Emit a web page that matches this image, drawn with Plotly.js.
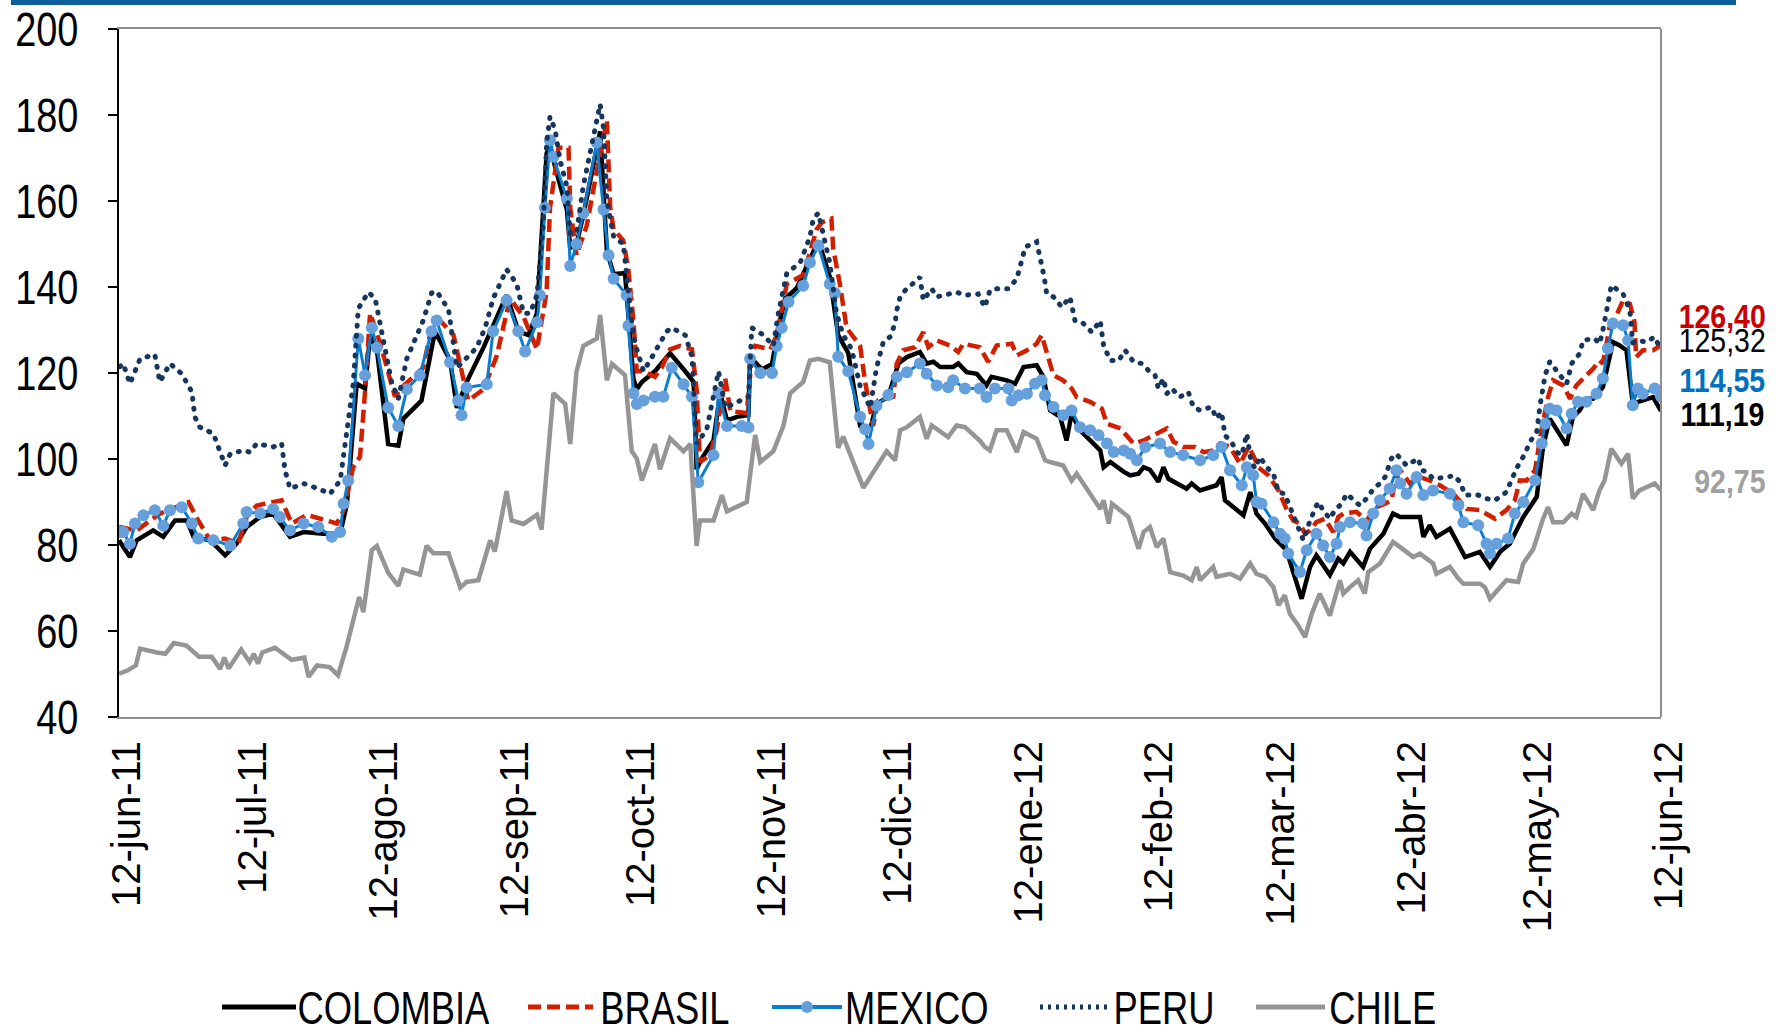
<!DOCTYPE html>
<html>
<head>
<meta charset="utf-8">
<script src="https://cdn.plot.ly/plotly-3.0.1.min.js"></script>
<style>
html,body{margin:0;padding:0;background:#fff;}
#chart{width:1779px;height:1036px;}
</style>
</head>
<body>
<div id="chart"></div>
<script>
// ---- DATA (x = days elapsed since 12-jun-2011) ----
const seriesNames = ["COLOMBIA", "BRASIL", "MEXICO", "PERU", "CHILE"];
const tickDates = ["2011-06-12","2011-07-12","2011-08-12","2011-09-12","2011-10-12","2011-11-12","2011-12-12","2012-01-12","2012-02-12","2012-03-12","2012-04-12","2012-05-12","2012-06-12"];
const tickLabels = ["12-jun-11","12-jul-11","12-ago-11","12-sep-11","12-oct-11","12-nov-11","12-dic-11","12-ene-12","12-feb-12","12-mar-12","12-abr-12","12-may-12","12-jun-12"];

const colombiaDay = [0,2.6,4.2,8.1,10.5,13.3,16.1,17.7,21.6,25.2,27.9,30.3,33.5,36.6,40.6,43.8,48.5,52.5,54.1,56.4,58.4,59.6,61.2,63.9,66.3,67.5,71.8,75,78.6,80.2,82.5,86.5,92,94.8,97.2,99.2,101.5,102.3,103.5,106.3,107.1,108.6,110.2,114.2,115.8,117.4,120.1,122.1,122.9,124.1,127.2,130.8,134.4,136.4,137.1,138.3,141.1,142.7,144.3,146.7,149.4,149.8,152.6,155,156.5,158.1,160.9,164,166,168.7,170.7,173.1,175.9,178.3,179.8,182.6,185,187,190.1,191.7,193.3,194.9,198,199.2,201.2,203.6,205.9,207.1,210.7,212.7,214.7,217.8,219.4,221,223.4,224.9,226.1,228.1,230.5,232.9,233.7,235.3,238.5,240,242,243.2,244.7,246.7,247.9,249.1,253.4,254.6,256.6,260.5,261.7,262.5,266.9,268.5,270,272,274.4,277.1,278.7,280.7,282.7,284.2,287.4,289.4,290.6,292.2,295.3,296.9,300.1,302.4,304.1,308.8,309.6,311.1,312.7,315.9,319.5,323,325.4,327.8,330.1,333.3,336.5,338,339.6,343.6,345.1,346.7,348.3,349.9,352.2,354.6,356.2,357.8,359.3,361.7,364.1,366];
const colombiaVal = [81.1,77.2,81.1,83.4,81.9,85.7,85.7,81.9,81.1,77.6,80.3,84.2,86.5,87.3,81.9,83,82.6,82.6,89.6,117.5,116.4,128.8,125.5,103.5,103.1,109.4,113.6,129.7,122.9,111.9,117.9,125.9,138.1,129.7,128.8,133.9,171.1,173,168,158,149.1,150,156.7,176.2,148.3,143,143.2,118.7,116.2,117.9,120.4,124.6,120.4,117.9,97.6,100.1,104.3,115.3,109,109.8,110.2,123.8,120.8,122.1,130.5,137.3,139.8,146.6,150.8,142.4,128.8,124.6,107.7,106.9,112.8,114.5,122.2,123.7,124.9,122.2,122.6,121.4,121.4,122.2,120.2,119.8,117.1,119.1,118.3,117.5,121.4,121.8,119.1,111.3,109.8,104.3,110.5,106.7,104.3,102,98.1,99.3,97,96.2,96.6,98.1,97.5,94.7,98.1,95.4,93.1,94.3,92.7,93.9,95.8,90.4,86.9,92.3,87.3,85,81.5,78.8,73.7,67.5,74.9,77.6,73,76.8,75.7,78.4,74.9,79.1,82.6,87.3,86.5,86.5,81.9,84.6,81.9,83.8,77.2,78.4,74.9,78.4,80.3,86.5,91.2,102.8,109.4,103.2,109.8,111.3,114,114,116.7,127.2,126.4,125.3,112.9,113.6,114.4,111.19];

const brasilDay = [0,4.2,9.7,16.5,18.8,21.6,25.2,28.3,30.3,32.7,38.6,41,44.6,51.7,53.3,55.6,57.2,58.2,59.6,61.9,64.3,65.5,67.5,72.2,73.8,76.2,79.4,81.3,82.9,86.5,89.6,92.8,96,99.2,101.5,102.3,104.3,106.7,107.1,108.6,111,114.2,115.8,116.6,117.4,119.7,120.9,122.1,122.9,124.5,127.2,128.8,130.8,133.2,136,137.1,137.9,140.3,141.9,143.9,145.1,149,150.2,151,154.6,156.1,158.5,162.4,165.6,166.8,169.1,169.5,171.1,172.7,175.9,177.1,179,180.2,183.8,184.6,186.2,188.9,190.9,192.1,194.1,197.2,199.2,200.4,204.3,206.3,208.3,211.9,213.1,215.5,217.8,219,220.2,221.8,224.1,226.1,227.3,230.5,233.3,234.5,237.7,239.2,240.8,243.2,244.7,248.7,250.3,252.6,255.4,257.4,259.7,261.3,263.7,266.1,268.1,269.2,270.4,272.8,275.2,277.1,278.7,280.3,281.5,282.7,284.2,286.2,288.2,289.4,290.6,293.7,296.1,298.5,300.5,302,303.2,304.1,306.4,308.8,311.1,313.5,316.7,319.9,323,326.6,329.3,331.3,332.5,334.1,336.1,337.7,339.2,340.4,342.8,344.4,345.9,347.5,349.9,351.4,352.2,353.8,355.8,357,358.6,359.7,360.1,361.7,364.1,366];
const brasilVal = [84.2,83.4,87.3,90,85.7,81.1,81.5,80.3,86.5,89.2,90.4,85,87,85,88,98.1,100.5,113,133.9,127.2,118.7,114.5,117,121.2,128.8,132.2,128.8,120.4,113.6,116.2,123.8,137.3,133.1,125.5,139,158.4,172.4,172.4,158.4,147.4,154.2,171.1,178.7,158.4,153.4,150.8,144.1,132.2,120.4,120.4,119.1,121.2,125.5,126.3,125.5,116.2,99.3,100.9,106.9,118.7,111.1,110.7,123.8,126.3,125.5,128.8,140.7,142.8,153.4,155,155.9,149.1,140.7,130.5,126.3,117.9,107.7,113.6,114.5,122.2,125.3,126,129.5,126,127.6,126.4,124.9,126.8,126,122.6,126.4,126.8,124.1,125.3,126.8,128.8,124.5,119.5,118.3,116.4,114.4,113.3,111.7,108.2,107.1,105.5,103.6,104.3,105.1,107.1,104,102.8,102.8,101.6,102,103.6,102.8,98.9,102.8,100.9,98.1,96.2,92.7,88.4,85.7,85,82.6,83.4,85.3,86.1,83,86.5,87.3,87.7,85.7,88.8,89.6,90.4,96.2,97.4,94.3,95.8,95,93.9,91.9,88.4,88.1,86.1,88.1,90.4,95,95,97.4,107.1,114.4,118.3,117.1,114,117.1,118.7,121,122.9,122.2,130.7,134.2,136.9,136.1,131.9,123.7,125.3,125.3,126.4];

const mexicoDay = [0.2,1,2.6,3.8,5.8,8.5,10.5,12.1,14.9,17.3,18.8,22.4,26.4,29.5,30.3,33.5,36.6,38.2,40.6,43.8,47.3,50.5,52.5,53.3,54.4,56.8,58.4,60,61.2,63.9,66.3,68.3,71.4,74.2,75.4,78.6,80.5,81.3,82.5,87.3,88.8,92,94.8,96.4,99.2,99.9,101.1,102.3,103.1,106.3,107.1,108.6,110.2,113.4,115,116.2,117.4,120.5,120.9,122.1,122.9,124.5,127.2,129.2,131.2,134,136,137.5,141.1,142.3,144.3,147.8,149.4,149.8,152.2,155,156.1,157.3,158.9,162.4,164,166,168.7,169.9,170.7,173.1,175.9,177.1,177.9,179.8,182.6,184.6,187,190.1,191.7,194.1,196.8,198,200.8,204.3,205.9,207.9,211.1,211.9,213.5,215.5,217.4,219,219.8,221.8,224.1,226.1,228.1,230.5,232.5,234.5,236.1,238.5,240,241.6,243.6,247.1,249.5,252.6,256.6,259.7,261.7,263.7,266.5,267.7,269.2,270,271.2,274,275.6,276.7,277.5,280.3,281.9,284.2,285.8,287.4,289,289.8,292.2,295.3,296.1,297.7,299.3,301.6,303.2,304.1,305.6,308,309.6,311.9,315.9,317.9,319.1,322.6,324.6,325.4,327,329.7,331.3,333.3,336.1,337.7,338.5,339.6,341.2,343.6,344.8,346.3,348.3,350.7,352.2,353.4,354.6,357,358.2,359.3,360.5,361.7,364.5,366];
const mexicoVal = [83,83,80.3,85,86.9,88.1,84.5,88.1,88.8,85,81.5,81.1,79.9,85,87.7,87.3,88.4,86.5,83.4,85,84.2,81.9,83,89.6,95,128,119.5,130.5,125.9,111.9,107.7,116.2,119.5,129.7,132.2,122.5,113.6,110.2,116.6,117.4,129.7,136.9,129.7,125,131.8,138.1,158.4,174.1,170.3,160.5,144.9,150,157.2,173.6,158,147.4,141.9,138.1,131,115.3,112.8,113.6,114.5,114.5,121.2,117.4,114.5,94.6,100.9,115.3,107.7,107.7,107.3,123.3,120,120,126.3,130.5,136.5,140.3,145.7,149.6,140.7,138.6,123.8,120.4,109.8,106.9,103.5,112.4,114.9,119.1,120.2,122.2,119.8,117.1,116.7,118.3,116.4,116.4,114.4,116.4,116.4,113.6,114.8,115.2,117.5,118.3,114.8,112.1,110.2,111.3,107.4,106.7,105.5,103.6,101.6,102,101.2,99.7,102.8,103.6,101.6,100.9,99.7,100.9,102.8,97.4,93.9,98.1,96.2,90,89.6,85.3,82.6,81.5,78,73.7,78.8,82.6,79.9,77.2,80.3,84.2,85.3,85,82.2,87.3,90.4,93.1,97.4,94.3,91.9,95.8,91.6,92.7,91.9,89.2,85.3,84.6,80.3,78,80.3,81.5,87.3,90,95,103.6,108.2,111.7,111.3,107.1,110.5,113.3,113.3,115.2,118.7,125.7,131.5,131.1,127.6,112.5,116.4,115.2,116.4,114.55];

const peruDay = [0.2,1,2.6,5,8.5,9.7,12.1,14.9,17.3,18,19.2,22.4,25.2,26.4,29.5,31.1,32.7,36.6,38.6,39.4,40.6,43.8,47.3,50.1,52.5,53.6,55.6,56.8,59.2,60.8,62.7,64.7,66.3,67.5,68.3,72.2,74.2,75.4,78.2,80.2,82.2,84.9,86.9,88.8,90.4,92,94.4,96,97.6,99.2,100.7,101.5,102.3,103.5,104.7,106.3,107.1,108.6,110.2,112.2,114.2,115,115.8,117.4,119.7,120.9,122.1,122.9,124.5,126.8,130,131.2,134.4,136,137.1,139.5,142.3,143.9,147.8,149.4,150.2,153,155.3,156.5,158.5,161.7,164,164.8,166,167.2,168.7,170.3,171.9,173.9,175.9,178.3,179.8,181.4,183,184.2,184.6,185.4,186.6,188.9,190.1,190.9,192.9,194.1,197.2,198.8,200.8,203.9,205.5,206.7,207.9,211.1,213.1,214.3,215.1,217.8,219,219.6,220.2,221.8,223.8,225.7,226.9,228.5,230.9,232.9,233.7,235.3,237.3,238.8,240.8,242.8,244.7,245.9,246.7,247.9,248.7,249.9,251.8,253.8,255,256.6,259.3,260.5,261.7,262.5,264.1,265.3,266.5,267.7,268.5,269.6,270.8,272.4,274,275.2,276.7,278.7,279.9,281.1,282.7,283.8,284.6,285.8,287.4,288.6,290.2,291.4,293.7,294.5,296.5,297.7,299.3,300.5,302,303.2,304.1,305.6,308.4,309.2,310.4,311.9,315.5,316.7,318.3,319.5,322.6,324.6,326.6,329.3,331.7,333.7,334.9,336.5,337.3,338.5,339.6,342,343.6,344.8,346.7,347.5,350.3,351.4,352.2,353.4,354.2,357,358.6,359.3,360.5,362.5,364.5,366];
const peruVal = [121.5,122.2,117.5,123.3,124.3,117.9,122.2,119.8,115.6,109.8,107.4,105.9,98.5,101.2,102,101.6,103.6,102.8,103.6,97.4,93.1,94.3,93.1,91.9,95,103.6,117.5,135,138.8,137.3,127.2,117.9,114,120.4,123.3,132.2,138.6,139,134.8,121.2,123.3,125.9,130.5,137.3,140.7,144.1,140.7,133.9,133.9,138.1,154.2,173.6,179.6,176.6,169.4,163.5,152.5,152.5,163.5,172.8,182.5,177,160.1,151.7,150,139,128.8,125.5,120.4,124.2,129.7,130.5,128.8,123.8,103.5,106.9,120.4,111.9,113.6,114.5,130.5,128.8,126.3,133.9,143.2,145.7,151.7,155.9,157.2,152.5,145.7,133.9,128.8,125.5,117,111.9,121.2,127.2,128.4,131.5,134.6,137.7,139.2,141.2,142.3,136.9,139.6,137.7,138.4,138.8,138.1,138.4,135.3,139.2,139.6,139.6,141.9,146.6,149.3,150.5,145.4,142.3,138.4,137.7,135.3,137.7,132.2,131.9,129.5,132.2,126.4,122.9,122.9,125.3,122.6,122.2,120.2,119.5,116.4,118.7,115.2,116.4,114.4,115.6,112.1,111.3,112.1,109.4,110.9,105.5,103.9,101.6,100.9,105.9,100.5,97.8,100.5,98.1,96.6,92.3,91.9,86.9,83.4,81.1,85.7,88.4,90,88.1,86.1,88.1,89.6,91.9,90,89.2,91.2,93.1,94.3,95.8,100.1,101.2,100.1,98.5,100.1,97.4,97,95.4,95.8,96.2,94.7,91.6,91.6,90.8,90.4,92.3,97.8,101.2,104,106.3,112.5,119.5,122.6,119.8,117.5,122.2,124.5,127.6,128,126.8,129.9,136.1,140.4,138.4,134.6,127,127.6,127.2,128.4,125.32];

const chileDay = [0,2,4,5,9,11,13,16,19,22,24,25,26,29,31,32,33,34,37,41,44,45,47,50,52,54,57,58,60,61.2,63.9,66.3,67.5,71.4,73,74.6,78.2,81,82.5,85.3,88.1,89.2,92,93.2,96,99.2,100.3,103.1,105.9,107.1,108.6,110.2,113.4,114.2,115.8,117,120.1,121.7,122.9,124.1,127.2,128.4,130.8,134,135.6,137.1,137.9,141.1,143.1,144.3,149,151,152.2,155.3,157.7,159.3,162.4,164,166,168.7,170.7,171.9,176.7,179.4,182.2,184.2,185.4,187,190.1,191.7,192.9,196.8,198.8,200.8,204.3,205.5,206.7,208.3,210.7,213.1,214.7,217.8,219.8,221,224.1,226.1,227.3,230.5,232.9,233.7,234.9,235.7,239.6,242,243.2,244.7,246.3,247.9,249.5,252.6,254.6,255.8,256.6,259.7,260.5,263.7,266.1,268.5,270,272,274,275.2,276.7,277.9,279.9,281.5,283.1,285,287.4,289.8,290.6,292.2,294.1,295.7,296.5,299.3,302.4,304.1,307.2,308.8,311.9,312.7,315.9,317.9,319.1,323,324.2,325.4,327.8,329.3,332.1,333.3,335.7,338,339.2,340.4,342.8,344.8,345.9,347.5,349.9,351.4,352.6,354.2,356.6,358.2,359.3,360.9,364.5,366];
const chileVal = [50.1,50.8,52,55.9,55,54.7,57.2,56.6,54,54,51.2,53.8,51.3,55.7,52.8,54.7,52.4,55,56.1,53.3,53.8,49.3,52,51.6,49.7,56.3,67.9,64.4,78.8,79.8,73.5,70.5,74.3,73.1,79.8,78.1,78.1,70.1,71.4,71.8,81.1,78.5,92.5,85.7,84.9,87,83.6,115.3,112.8,103.5,120.4,126.3,128,133.5,118.3,122.1,119.5,101.8,100.1,95,103.5,97.6,104.8,101.8,103.5,79.8,85.7,85.7,91.6,87.8,90,105.6,99.3,101.8,107.7,115.3,117.9,122.9,123.3,122.5,102.6,105.2,93.3,97.6,101.8,99.7,106.7,107.4,109.8,104.7,107.8,105.1,107.8,107.4,104.3,102.8,102,106.7,106.7,101.6,106.3,104.7,99.7,99.3,98.5,95,96.6,91.9,88.4,90.4,85,89.6,86.5,79.1,83,84.2,79.5,81.5,73.7,72.9,71.8,74.9,71.8,74.9,72.6,73.3,72.2,75.7,73.3,72.6,70.2,66,68.3,64,61.3,58.6,64,68.7,63.6,71.8,68.7,70.2,71.8,68.7,73.7,75.7,80.7,79.5,77.2,78,75.7,73.3,74.9,72.2,71,71,70.2,67.5,70.2,71.8,71.4,75.7,79.1,86.1,88.8,85.3,85.3,87.3,86.5,91.9,88.1,92.7,95,102.4,98.9,101.2,90.8,92.7,94.3,92.75];

// ---- STYLE ----
const FONT = "'Liberation Sans', Arial, sans-serif";
const SQUEEZE = 0.79;      // narrow-font look (Arial Narrow ≈ condensed Arial)
const END_SQUEEZE = 0.85;  // end-of-series value labels
const colors = {col: '#000000', bra: '#d11f00', mexLine: '#0b7dcf', mexMark: '#65a0dd', per: '#17365d', chi: '#959595'};
const baseMs = Date.UTC(2011, 5, 12);
const toDate = arr => arr.map(d => new Date(baseMs + d * 86400000).toISOString().replace('T', ' ').slice(0, 19));

const traces = [
  {name: seriesNames[0], x: toDate(colombiaDay), y: colombiaVal, mode: 'lines', line: {color: colors.col, width: 4.5}},
  {name: seriesNames[1], x: toDate(brasilDay), y: brasilVal, mode: 'lines', line: {color: colors.bra, width: 4.5, dash: '13px,6px'}},
  {name: seriesNames[2], x: toDate(mexicoDay), y: mexicoVal, mode: 'lines+markers', line: {color: colors.mexLine, width: 3}, marker: {color: colors.mexMark, size: 12}},
  {name: seriesNames[3], x: toDate(peruDay), y: peruVal, mode: 'lines', line: {color: colors.per, width: 5, dash: '1px,9px'}},
  {name: seriesNames[4], x: toDate(chileDay), y: chileVal, mode: 'lines', line: {color: colors.chi, width: 4.5}}
];

// paper-coordinate helpers (plot area: 1542 x 688 px, origin at left=119, bottom=717)
const px = x => (x - 119) / 1542;
const py = y => (717 - y) / 688;
// approximate Arial advance widths (em) to place condensed texts
const ADV = {'0':.556,'1':.556,'2':.556,'3':.556,'4':.556,'5':.556,'6':.556,'7':.556,'8':.556,'9':.556,',':.278,
  C:.722,O:.778,L:.556,M:.833,B:.667,I:.278,A:.667,R:.722,S:.667,E:.667,X:.667,P:.667,U:.722,H:.722};
const textW = (s, size, sq) => s.split('').reduce((a, c) => a + (ADV[c] || .6), 0) * size * sq;

const fmt = v => v.toFixed(2).replace('.', ',');
const endLabels = [
  {text: fmt(brasilVal[brasilVal.length - 1]), color: '#c80000', weight: 'bold', y: 316},
  {text: fmt(peruVal[peruVal.length - 1]), color: '#000000', weight: 'normal', y: 340},
  {text: fmt(mexicoVal[mexicoVal.length - 1]), color: '#0070c0', weight: 'bold', y: 380},
  {text: fmt(colombiaVal[colombiaVal.length - 1]), color: '#000000', weight: 'bold', y: 414},
  {text: fmt(chileVal[chileVal.length - 1]), color: '#a0a0a0', weight: 'bold', y: 482}
];
const END_RIGHT = 1766, END_SIZE = 33.5;

// custom legend (kept inside the figure, below the axis labels)
const legendItems = [
  {name: seriesNames[0], x0: 222, x1: 296, tx: 298, line: {color: colors.col, width: 5}},
  {name: seriesNames[1], x0: 528, x1: 593, tx: 600, line: {color: colors.bra, width: 5, dash: '13px,6px'}},
  {name: seriesNames[2], x0: 772, x1: 842, tx: 845, line: {color: colors.mexLine, width: 4}, marker: 807},
  {name: seriesNames[3], x0: 1040, x1: 1110, tx: 1114, line: {color: colors.per, width: 5, dash: '3px,5px'}},
  {name: seriesNames[4], x0: 1256, x1: 1325, tx: 1329, line: {color: colors.chi, width: 5}}
];
const legendY = 1007, LEG_SIZE = 46;

const shapes = [
  {type: 'line', xref: 'paper', yref: 'paper', x0: 1, x1: 1, y0: 0, y1: 1, line: {color: '#8e8e8e', width: 2}},
  {type: 'rect', xref: 'paper', yref: 'paper', x0: px(11), x1: px(1736), y0: py(5), y1: py(0), fillcolor: '#0e5e9b', line: {width: 0}}
];
legendItems.forEach(it => {
  shapes.push({type: 'line', xref: 'paper', yref: 'paper', x0: px(it.x0), x1: px(it.x1), y0: py(legendY), y1: py(legendY), line: it.line});
  if (it.marker) {
    shapes.push({type: 'circle', xref: 'paper', yref: 'paper', xsizemode: 'pixel', ysizemode: 'pixel',
      xanchor: px(it.marker), yanchor: py(legendY), x0: -6, x1: 6, y0: -6, y1: 6,
      fillcolor: colors.mexMark, line: {width: 0}});
  }
});

const annotations = [];
endLabels.forEach(l => {
  const w = textW(l.text, END_SIZE, END_SQUEEZE);
  annotations.push({
    xref: 'paper', yref: 'paper', x: px(END_RIGHT - w / 2), y: py(l.y), xanchor: 'center', yanchor: 'middle',
    text: l.text, showarrow: false,
    font: {family: FONT, size: END_SIZE, color: l.color, weight: l.weight}
  });
});
legendItems.forEach(it => {
  const w = textW(it.name, LEG_SIZE, SQUEEZE);
  annotations.push({
    xref: 'paper', yref: 'paper', x: px(it.tx + w / 2), y: py(legendY + 1), xanchor: 'center', yanchor: 'middle',
    text: it.name, showarrow: false,
    font: {family: FONT, size: LEG_SIZE, color: '#000'}
  });
});

const layout = {
  width: 1779, height: 1036,
  margin: {l: 119, r: 118, t: 29, b: 319},
  paper_bgcolor: '#ffffff', plot_bgcolor: '#ffffff',
  showlegend: false,
  xaxis: {
    type: 'date',
    range: ['2011-06-12', '2012-06-12'],
    tickmode: 'array', tickvals: tickDates, ticktext: tickLabels,
    tickangle: -90, ticks: '', ticklabelstandoff: 6,
    tickfont: {family: FONT, size: 40, color: '#000'},
    showgrid: false, zeroline: false,
    showline: true, linecolor: '#8e8e8e', linewidth: 2, mirror: true
  },
  yaxis: {
    range: [40, 200], tick0: 40, dtick: 20,
    ticks: 'outside', ticklen: 9, tickwidth: 2, tickcolor: '#000',
    ticklabelstandoff: 20,
    tickfont: {family: FONT, size: 48, color: '#000'},
    showgrid: false, zeroline: false,
    showline: true, linecolor: '#000', linewidth: 2
  },
  shapes: shapes,
  annotations: annotations
};

Plotly.newPlot('chart', traces, layout, {displayModeBar: false, staticPlot: true}).then(gd => {
  // condense texts horizontally (around their anchor) to get the narrow-font look
  const squeeze = (t, f) => {
    const w = t.getComputedTextLength();
    if (!w) return;
    t.setAttribute('textLength', (w * f).toFixed(2));
    t.setAttribute('lengthAdjust', 'spacingAndGlyphs');
  };
  gd.querySelectorAll('.ytick text').forEach(t => squeeze(t, SQUEEZE));
  gd.querySelectorAll('.annotation').forEach(g => {
    const idx = +g.getAttribute('data-index');
    const t = g.querySelector('text.annotation-text');
    if (t) squeeze(t, idx < endLabels.length ? END_SQUEEZE : SQUEEZE);
  });
  // nudge rotated date labels so their glyphs sit centred on the month positions
  gd.querySelectorAll('.xtick text').forEach(t => {
    t.setAttribute('transform', 'translate(8,0) ' + (t.getAttribute('transform') || ''));
  });
  // round dots for the PERU dotted line
  const tr = gd.querySelectorAll('.scatterlayer .trace');
  if (tr[3]) tr[3].querySelectorAll('path.js-line').forEach(p => p.style.strokeLinecap = 'round');
});
</script>
</body>
</html>
